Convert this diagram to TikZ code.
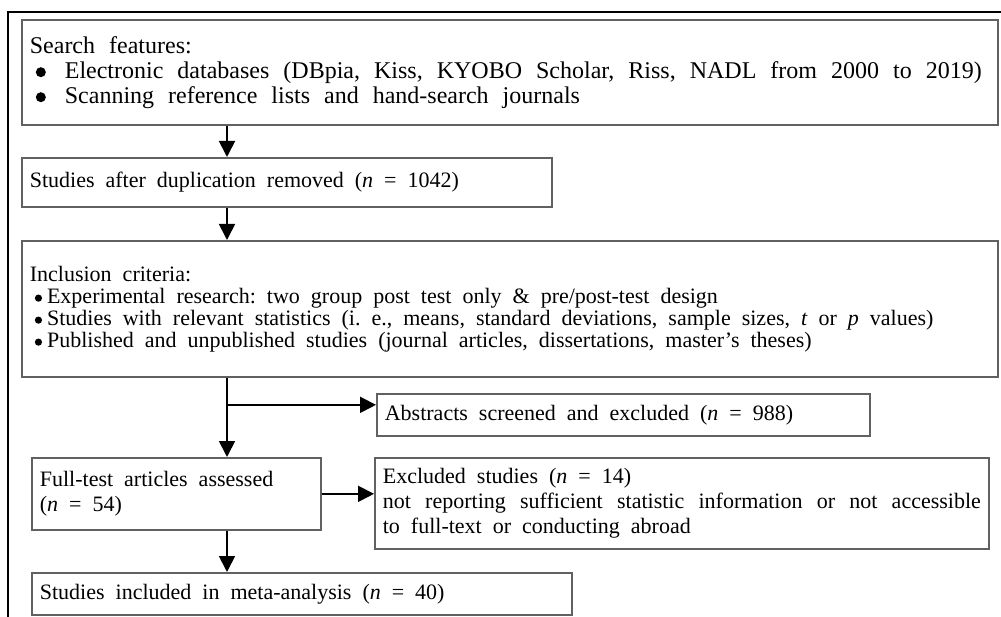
\documentclass[tikz,border=0pt]{standalone}
\usepackage{fontspec}
\setmainfont{Liberation Serif}
\usetikzlibrary{arrows.meta, positioning}
\newcommand\widespace[1]{\spaceskip=#1 plus 10pt minus 1pt\relax}
\newcommand\bigdot[2]{\tikz[baseline=0pt]\fill (#1,#2) circle (#1);}

\begin{document}
\begin{tikzpicture}[
    x=1pt, y=-1pt,
    box/.style={draw=black!62, line width=1.7pt, anchor=north west, inner xsep=8pt, inner ysep=0pt,
        align=left, font=\fontsize{22}{25}\selectfont, execute at begin node={\widespace{11pt}}},
    bigbox/.style={box, font=\fontsize{24}{25}\selectfont, execute at begin node={\widespace{14pt}}},
    listbox/.style={box, font=\fontsize{22}{22}\selectfont},
    arrow/.style={-{Triangle[length=16pt, width=16pt]}, line width=1.8pt, draw=black},
    frame/.style={line width=1.4pt, draw=black}
]
\useasboundingbox (0,0) rectangle (1001,617);
\draw[frame] (1001,12) -- (8,12) -- (8,617);

\node[bigbox, minimum width=976pt, minimum height=105pt, text width=960pt] (search) at (21,19)
    {Search features:\\
     \hspace*{6pt}\bigdot{5pt}{6pt}\hspace*{19pt}Electronic databases (DBpia, Kiss, KYOBO Scholar, Riss, NADL from 2000 to 2019)\\
     \hspace*{6pt}\bigdot{5pt}{6pt}\hspace*{19pt}Scanning reference lists and hand-search journals};
\node[box, minimum width=530pt, minimum height=49pt, text width=514pt] (dedup) at (21,157)
    {Studies after duplication removed (\textit{n} = 1042)};
\node[listbox, minimum width=976pt, minimum height=136pt, text width=960pt] (incl) at (21,240)
    {Inclusion criteria:\\
     \hspace*{5pt}\bigdot{3.6pt}{5pt}\hspace*{5pt}Experimental research: two group post test only \& pre/post-test design\\
     \hspace*{5pt}\bigdot{3.6pt}{5pt}\hspace*{5pt}Studies with relevant statistics (i. e., means, standard deviations, sample sizes, \textit{t} or \textit{p} values)\\
     \hspace*{5pt}\bigdot{3.6pt}{5pt}\hspace*{5pt}Published and unpublished studies (journal articles, dissertations, master’s theses)};
\node[box, minimum width=493pt, minimum height=42pt, text width=477pt] (abstr) at (376,393)
    {Abstracts screened and excluded (\textit{n} = 988)};
\node[box, minimum width=289pt, minimum height=72pt, text width=273pt] (full) at (31,457)
    {Full-test articles assessed\\(\textit{n} = 54)};
\node[box, minimum width=614pt, minimum height=91pt, text width=598pt, align=justify] (excl) at (374,457)
    {Excluded studies (\textit{n} = 14)\\
     not reporting sufficient statistic information or not accessible\linebreak
     to full-text or conducting abroad};
\node[box, minimum width=540pt, minimum height=42pt, text width=524pt] (meta) at (31,572)
    {Studies included in meta-analysis (\textit{n} = 40)};

\coordinate (spine) at (227,0);
\draw[arrow] (spine |- search.south) -- (spine |- dedup.north);
\draw[arrow] (spine |- dedup.south) -- (spine |- incl.north);
\draw[arrow] (spine |- incl.south) -- (spine |- full.north);
\draw[arrow] ([yshift=10pt]abstr.west -| spine) -- ([yshift=10pt]abstr.west);
\draw[arrow] (full.east) -- (full.east -| excl.west);
\draw[arrow] (spine |- full.south) -- (spine |- meta.north);
\end{tikzpicture}
\end{document}
